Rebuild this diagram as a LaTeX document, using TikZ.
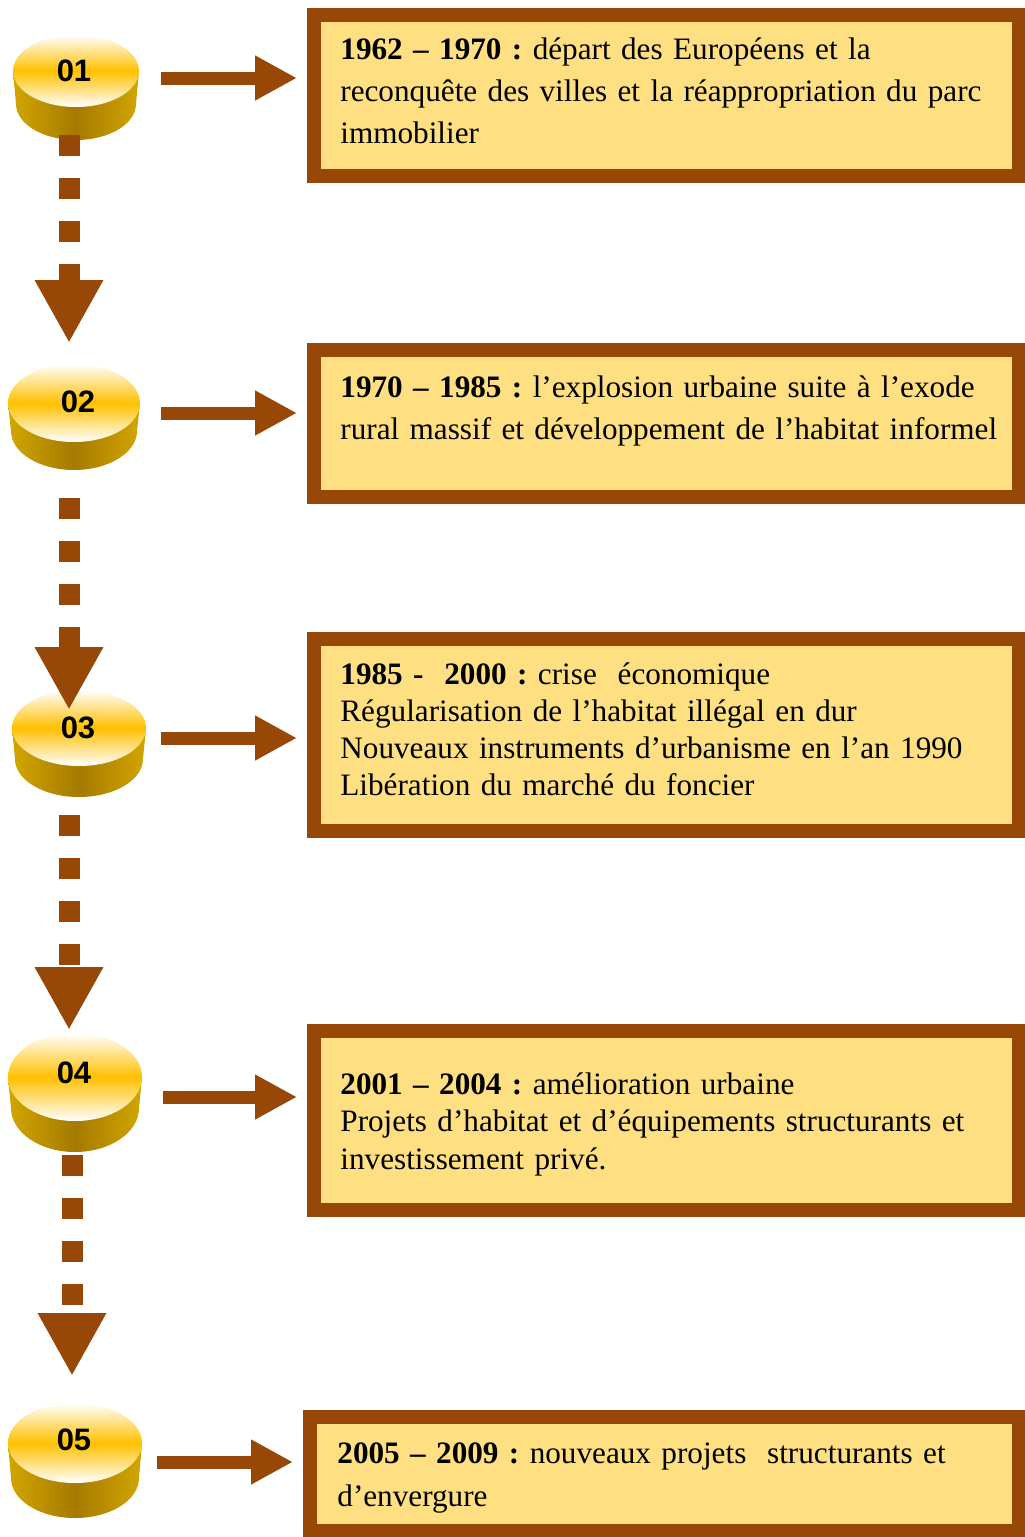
\documentclass[tikz,border=0pt]{standalone}
\usepackage{fontspec}
\setmainfont{Liberation Serif}
\newfontfamily\lsans{Liberation Sans}
\usetikzlibrary{arrows.meta}
\definecolor{brn}{RGB}{151,72,6}
\definecolor{boxfill}{RGB}{254,223,130}
\definecolor{goldtop}{RGB}{255,192,0}
\definecolor{sidegold}{RGB}{210,166,0}
\definecolor{sidedark}{RGB}{165,122,0}
% cx cy rx ry d
\newcommand\mydisk[5]{%
  \shade[left color=sidegold, right color=sidegold, middle color=sidedark]
    (#1-#3,#2) -- (#1-#3+3,#2+#5) arc[start angle=180,end angle=0,x radius=#3-3,y radius=#4]
    -- (#1+#3,#2) -- cycle;
  \shade[top color=white, bottom color=white, middle color=goldtop]
    (#1,#2) ellipse[x radius=#3, y radius=#4];
}
\tikzset{
  box/.style={draw=brn, line width=7pt, fill=boxfill, inner sep=0pt, anchor=north west, minimum width=352.5pt},
  txt/.style={anchor=base west, inner sep=0pt, text width=345pt, align=left},
  lbl/.style={inner sep=0pt, font=\lsans\bfseries\fontsize{15.5}{17}\selectfont},
  harr/.style={draw=brn, line width=6.5pt, -{Triangle[length=21pt,width=21pt]}, shorten >=5pt},
  varr/.style={draw=brn, line width=10.5pt, dash pattern=on 10.5pt off 11pt, -{Triangle[length=31.5pt,width=32pt]}}
}
\frenchspacing
\begin{document}
\begin{tikzpicture}[x=0.5pt,y=-0.5pt]
\useasboundingbox (0,0) rectangle (1024,1537);
% disks
\mydisk{76}{71}{63}{36}{33}
\mydisk{74}{403}{66}{39}{28}
\mydisk{79}{728}{67}{38}{31}
\mydisk{75}{1077}{67}{44}{31}
\mydisk{75}{1443}{67}{40}{35}
\node[lbl] (d1) at (74,71) {01};
\node[lbl] (d2) at (78,402) {02};
\node[lbl] (d3) at (78,728) {03};
\node[lbl] (d4) at (74,1073) {04};
\node[lbl] (d5) at (74,1440) {05};
% boxes
\node[box, minimum height=80.5pt] (b1) at (307,8) {};
\node[box, minimum height=73.5pt] (b2) at (307,343) {};
\node[box, minimum height=96pt] (b3) at (307,632) {};
\node[box, minimum height=89.5pt] (b4) at (307,1024) {};
\node[box, minimum height=57pt, minimum width=354.5pt] (b5) at (303,1410) {};
% texts
\node[txt, font=\fontsize{15.6}{21}\selectfont\frenchspacing] (t1) at (340,59)
 {\textbf{1962 – 1970 :} départ des Européens et la\\reconquête des villes et la réappropriation du parc\\immobilier};
\node[txt, font=\fontsize{15.6}{21}\selectfont\frenchspacing] (t2) at (340,397)
 {\textbf{1970 – 1985 :} l’explosion urbaine suite à l’exode\\rural massif et développement de l’habitat informel};
\node[txt, font=\fontsize{15.6}{18.5}\selectfont\frenchspacing] (t3) at (340,684)
 {\textbf{1985 -~ 2000 :} crise~ économique\\Régularisation de l’habitat illégal en dur\\Nouveaux instruments d’urbanisme en l’an 1990\\Libération du marché du foncier};
\node[txt, font=\fontsize{15.6}{18.75}\selectfont\frenchspacing] (t4) at (340,1094)
 {\textbf{2001 – 2004 :} amélioration urbaine\\Projets d’habitat et d’équipements structurants et\\investissement privé.};
\node[txt, font=\fontsize{15.6}{21.5}\selectfont\frenchspacing] (t5) at (337,1463)
 {\textbf{2005 – 2009 :} nouveaux projets~ structurants et\\d’envergure};
% horizontal arrows
\coordinate (h1) at (161,78);
\coordinate (h2) at (161,413);
\coordinate (h3) at (161,738);
\coordinate (h4) at (163,1097);
\coordinate (h5) at (157,1462);
\draw[harr] (h1) -- (h1 -| b1.west);
\draw[harr] (h2) -- (h2 -| b2.west);
\draw[harr] (h3) -- (h3 -| b3.west);
\draw[harr] (h4) -- (h4 -| b4.west);
\draw[harr] (h5) -- (h5 -| b5.west);
% vertical dashed arrows
\coordinate (s1) at (69,135);  \coordinate (e1) at (69,343);
\coordinate (s2) at (69,498);  \coordinate (e2) at (69,710);
\coordinate (s3) at (69,815);  \coordinate (e3) at (69,1030);
\coordinate (s4) at (72,1155); \coordinate (e4) at (72,1376);
\draw[varr] (s1) -- (e1);
\draw[varr] (s2) -- (e2);
\draw[varr] (s3) -- (e3);
\draw[varr] (s4) -- (e4);
\end{tikzpicture}
\end{document}
